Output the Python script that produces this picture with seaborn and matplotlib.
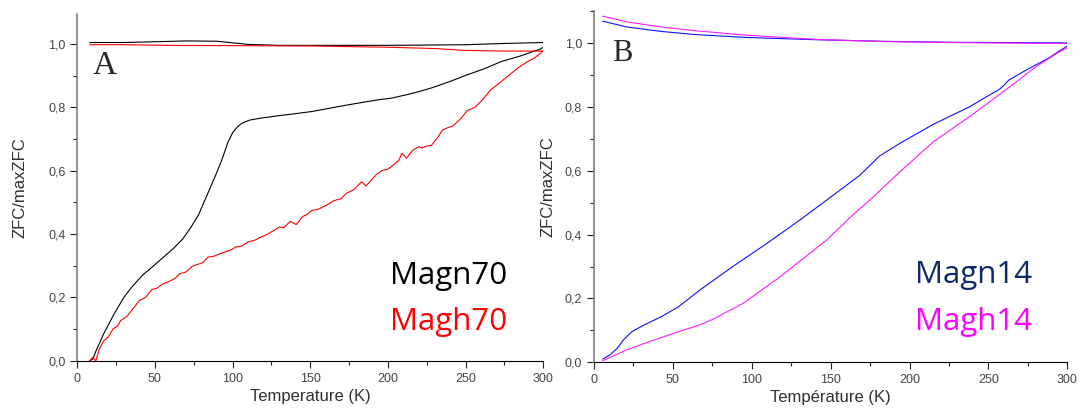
import matplotlib
matplotlib.use("Agg")
import matplotlib.pyplot as plt
import matplotlib.ticker as mticker
import numpy as np
import pandas as pd
import seaborn as sns

# panel A: Magn70 (black) and Magh70 (red)
t_magn70_zfc = [8, 10, 12, 17, 24, 30, 35, 42, 48, 55, 62, 68, 73, 78, 84, 89, 93, 97, 100, 103, 106, 111,
                118, 130, 140, 151, 162, 173, 185, 195, 202, 212, 220, 229, 240, 251, 262, 273, 285, 298, 300]
v_magn70_zfc = [0.0, 0.005, 0.03, 0.085, 0.15, 0.2, 0.232, 0.27, 0.295, 0.325, 0.355, 0.385, 0.42, 0.46, 0.528,
                0.585, 0.633, 0.69, 0.72, 0.738, 0.75, 0.76, 0.766, 0.774, 0.78, 0.787, 0.797, 0.807, 0.817, 0.825,
                0.829, 0.84, 0.85, 0.863, 0.882, 0.903, 0.922, 0.945, 0.962, 0.984, 0.99]
t_magn70_fc = [8, 30, 55, 70, 90, 110, 130, 160, 200, 250, 275, 300]
v_magn70_fc = [1.005, 1.005, 1.008, 1.01, 1.009, 0.999, 0.996, 0.996, 0.996, 0.998, 1.002, 1.005]

t_magh70_zfc = [8, 10, 12, 14, 17, 20, 23, 26, 28, 32, 36, 40, 44, 48, 51, 55, 59, 63, 66, 70, 74, 78, 81, 84,
                88, 92, 96, 99, 102, 106, 110, 114, 118, 122, 126, 130, 133, 137, 141, 145, 148, 151, 155, 160,
                165, 170, 173, 178, 183, 186, 190, 193, 196, 200, 204, 207, 209, 212, 216, 220, 222, 225, 228,
                232, 235, 238, 242, 247, 251, 256, 261, 266, 270, 275, 280, 285, 290, 294, 298, 300]
v_magh70_zfc = [0.0, 0.01, 0.0, 0.035, 0.063, 0.075, 0.1, 0.11, 0.127, 0.14, 0.165, 0.19, 0.2, 0.225, 0.228,
                0.242, 0.25, 0.26, 0.275, 0.28, 0.298, 0.305, 0.31, 0.327, 0.33, 0.338, 0.345, 0.35, 0.359, 0.362,
                0.375, 0.38, 0.39, 0.398, 0.41, 0.422, 0.42, 0.44, 0.43, 0.455, 0.462, 0.475, 0.478, 0.49, 0.505,
                0.512, 0.528, 0.54, 0.565, 0.552, 0.575, 0.59, 0.6, 0.605, 0.62, 0.633, 0.655, 0.64, 0.665, 0.676,
                0.672, 0.678, 0.68, 0.705, 0.728, 0.735, 0.742, 0.765, 0.79, 0.8, 0.825, 0.855, 0.87, 0.89, 0.91,
                0.929, 0.945, 0.955, 0.97, 0.98]
t_magh70_fc = [8, 30, 60, 100, 150, 200, 230, 250, 275, 300]
v_magh70_fc = [0.998, 0.998, 0.996, 0.995, 0.994, 0.99, 0.986, 0.98, 0.978, 0.978]

# panel B: Magn14 (blue) and Magh14 (magenta)
t_magn14_zfc = [5.5, 10, 15, 18.6, 24, 31.8, 42.7, 53.6, 67, 88, 109.5, 130.6, 147.5, 168.6, 181, 194, 215,
                238, 250, 257, 260, 263, 275, 288, 295, 300]
v_magn14_zfc = [0.01, 0.023, 0.045, 0.07, 0.096, 0.117, 0.143, 0.174, 0.226, 0.30, 0.372, 0.446, 0.508, 0.586,
                0.646, 0.686, 0.745, 0.80, 0.835, 0.855, 0.868, 0.884, 0.918, 0.952, 0.975, 0.99]
t_magn14_fc = [5.5, 20.8, 42.7, 64.6, 97.4, 141, 185, 229, 300]
v_magn14_fc = [1.068, 1.05, 1.036, 1.026, 1.017, 1.01, 1.005, 1.002, 1.0]

t_magh14_zfc = [5.5, 20.8, 31.8, 53.6, 67, 75.5, 94.6, 118, 147.5, 162, 177, 194, 215, 238, 252, 265, 280,
                295, 300]
v_magh14_zfc = [0.005, 0.039, 0.059, 0.096, 0.117, 0.135, 0.185, 0.268, 0.383, 0.452, 0.518, 0.597, 0.69,
                0.769, 0.82, 0.868, 0.925, 0.972, 0.985]
t_magh14_fc = [5.5, 20.8, 42.7, 64.6, 97.4, 141, 185, 229, 300]
v_magh14_fc = [1.084, 1.066, 1.05, 1.038, 1.024, 1.011, 1.004, 1.001, 0.998]

sns.set_style("ticks")
plt.rcParams["font.family"] = ["Liberation Sans", "DejaVu Sans"]

fig = plt.figure(figsize=(10.82, 4.12), dpi=100)
ax1 = fig.add_axes([0.0714, 0.1245, 0.4307, 0.8415])
ax2 = fig.add_axes([0.549, 0.1206, 0.4374, 0.8527])

curves_a = [(t_magn70_zfc, v_magn70_zfc, "black"), (t_magn70_fc, v_magn70_fc, "black"),
            (t_magh70_zfc, v_magh70_zfc, "red"), (t_magh70_fc, v_magh70_fc, "red")]
curves_b = [(t_magn14_zfc, v_magn14_zfc, "#1010ff"), (t_magn14_fc, v_magn14_fc, "#1010ff"),
            (t_magh14_zfc, v_magh14_zfc, "#ff1aff"), (t_magh14_fc, v_magh14_fc, "#ff1aff")]

for ax, curves in [(ax1, curves_a), (ax2, curves_b)]:
    for t, v, c in curves:
        sns.lineplot(x=t, y=v, color=c, lw=0.8, ax=ax, sort=False, estimator=None)

ax1.set_ylim(0, 1.095)
ax2.set_ylim(0, 1.1)
for ax, xl in [(ax1, "Temperature (K)"), (ax2, "Température (K)")]:
    ax.set_xlim(0, 300)
    sns.despine(ax=ax)
    ax.spines["left"].set_color("#808080")
    ax.spines["left"].set_linewidth(1.2)
    ax.spines["bottom"].set_color("black")
    ax.xaxis.set_major_locator(mticker.MultipleLocator(50))
    ax.xaxis.set_minor_locator(mticker.MultipleLocator(25))
    ax.yaxis.set_major_locator(mticker.MultipleLocator(0.2))
    ax.yaxis.set_minor_locator(mticker.MultipleLocator(0.1))
    ax.yaxis.set_major_formatter(mticker.FuncFormatter(lambda v, p: f"{v:.1f}".replace(".", ",")))
    ax.tick_params(which="major", length=5, width=0.8, labelsize=9, labelcolor="#444444", color="#222222")
    ax.tick_params(which="minor", length=3, width=0.8, color="#222222")
    ax.set_xlabel(xl, fontsize=12, color="#303030", labelpad=3)
    ax.set_ylabel("ZFC/maxZFC", fontsize=12, color="#303030")

ax1.yaxis.set_label_coords(-0.106, 0.5)
ax2.yaxis.set_label_coords(-0.082, 0.5)

ax1.text(0.032, 0.85, "A", transform=ax1.transAxes, fontsize=24, family="Liberation Serif", va="center")
ax2.text(0.038, 0.88, "B", transform=ax2.transAxes, fontsize=22, family="Liberation Serif", va="center")

big = dict(fontsize=22.5, family="Open Sans", ha="right", va="baseline")
ax1.text(277, 0.242, "Magn70", color="black", **big)
ax1.text(277, 0.097, "Magh70", color="red", **big)
ax2.text(278, 0.247, "Magn14", color="#0e2a66", **big)
ax2.text(278, 0.101, "Magh14", color="#ff00ff", **big)

fig.savefig("out.png", dpi=100)
